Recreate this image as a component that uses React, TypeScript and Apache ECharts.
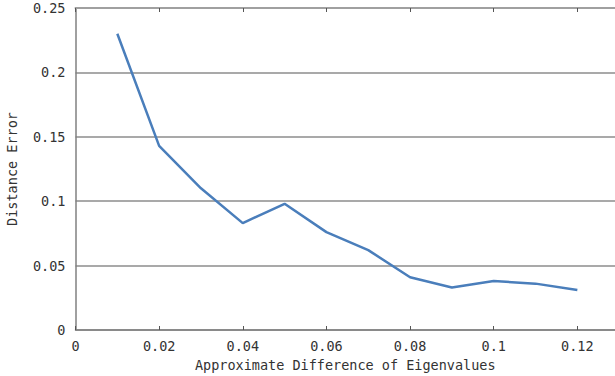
import React, { useEffect, useRef } from "react";
import * as echarts from "echarts";

const xValues = [0.01, 0.02, 0.03, 0.04, 0.05, 0.06, 0.07, 0.08, 0.09, 0.1, 0.11, 0.12];
const errorValues = [0.230, 0.143, 0.110, 0.083, 0.098, 0.076, 0.062, 0.041, 0.033, 0.038, 0.036, 0.031];
const xTitle = "Approximate Difference of Eigenvalues";
const yTitle = "Distance Error";

const FONT = "'DejaVu Sans Mono', monospace";
const FS = 13.5;

export default function App() {
  const ref = useRef<HTMLDivElement>(null);
  useEffect(() => {
    if (!ref.current) return;
    const chart = echarts.init(ref.current, undefined, { renderer: "svg" });
    const labelFmt = (v: number) => {
      const r = Math.round(v * 100) / 100;
      return Math.abs(r - v) < 1e-9 ? String(r) : "";
    };
    chart.setOption({
      animation: false,
      backgroundColor: "#ffffff",
      grid: { left: 75.5, right: 0, top: 8, bottom: 46, containLabel: false, outerBoundsMode: "none" },
      xAxis: [
        {
          type: "value",
          min: 0,
          max: 0.129,
          interval: 0.02,
          position: "bottom",
          name: xTitle,
          nameLocation: "middle",
          nameGap: 28,
          nameMoveOverlap: false,
          nameTextStyle: { fontFamily: FONT, fontSize: FS, color: "#333" },
          axisLine: { show: true, lineStyle: { color: "#808080", width: 1.5 } },
          axisTick: { show: true, inside: true, length: 4, lineStyle: { color: "#555", width: 1 } },
          axisLabel: { fontFamily: FONT, fontSize: FS, color: "#333", margin: 9, formatter: labelFmt, showMaxLabel: false },
          splitLine: { show: false },
        },
        {
          type: "value",
          min: 0,
          max: 0.129,
          interval: 0.02,
          position: "top",
          axisLine: { show: true, lineStyle: { color: "#a0a0a0", width: 2 } },
          axisTick: { show: true, inside: true, length: 4, lineStyle: { color: "#555", width: 1 } },
          axisLabel: { show: false },
          splitLine: { show: false },
        },
      ],
      yAxis: {
        type: "value",
        min: 0,
        max: 0.25,
        interval: 0.05,
        name: yTitle,
        nameLocation: "middle",
        nameGap: 57,
        nameMoveOverlap: false,
        nameTextStyle: { fontFamily: FONT, fontSize: FS, color: "#333" },
        axisLine: { show: true, lineStyle: { color: "#808080", width: 1.5 } },
        axisTick: { show: false },
        axisLabel: { fontFamily: FONT, fontSize: FS, color: "#333", margin: 10, formatter: labelFmt },
        splitLine: { show: true, lineStyle: { color: "#8c8c8c", width: 1.5 } },
      },
      series: [
        {
          type: "line",
          xAxisIndex: 0,
          data: xValues.map((x, i) => [x, errorValues[i]]),
          showSymbol: false,
          symbol: "none",
          lineStyle: { color: "#4a7ebb", width: 2.5 },
          itemStyle: { color: "#4a7ebb" },
        },
      ],
    });
    return () => chart.dispose();
  }, []);
  return <div ref={ref} style={{ width: 615, height: 376, position: "absolute", left: 0, top: 0 }} />;
}
